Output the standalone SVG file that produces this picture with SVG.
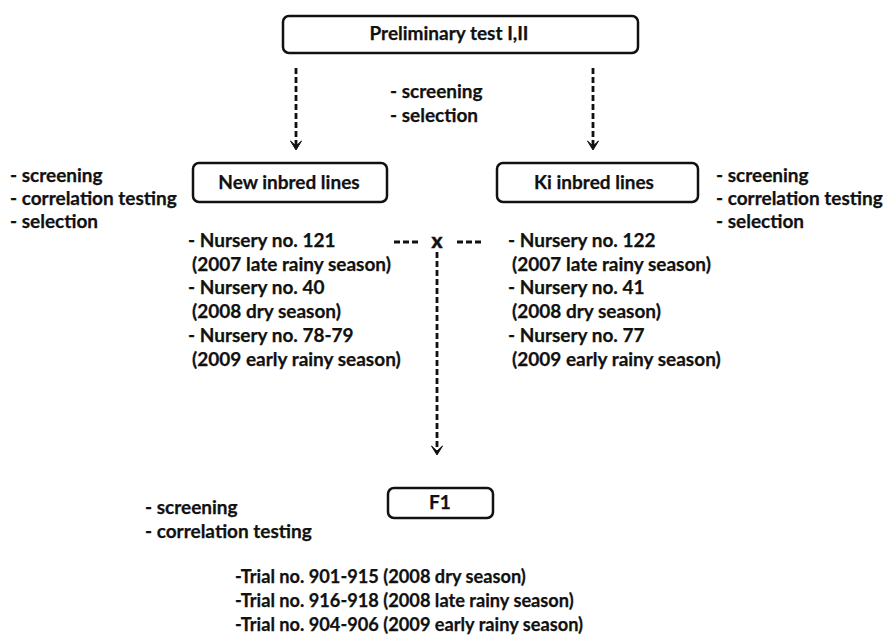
<svg xmlns="http://www.w3.org/2000/svg" width="889" height="643" viewBox="0 0 889 643">
<style>
text{font-family:Lato,"Liberation Sans",sans-serif;font-weight:700;font-size:19px;fill:#111;stroke:#111;stroke-width:0.25}
.box{fill:#fff;stroke:#111;stroke-width:2.5}
.c{text-anchor:middle}
.t{font-size:18.2px}
.dash{fill:none;stroke:#111;stroke-width:2.8;stroke-dasharray:6 3}
.head{fill:#111;stroke:#111;stroke-width:1;stroke-linejoin:miter}
</style>
<defs>
<path id="ah" class="head" d="M-5.5,-9 L0,-4 L5.5,-9 L0,0 Z"/>
</defs>
<rect width="889" height="643" fill="#fff"/>
<g id="connectors">
<line class="dash" x1="296" y1="68" x2="296" y2="145"/>
<use href="#ah" x="296" y="150"/>
<line class="dash" x1="593" y1="68" x2="593" y2="145"/>
<use href="#ah" x="593" y="150"/>
<line class="dash" x1="437" y1="252" x2="437" y2="450"/>
<use href="#ah" x="437" y="455"/>
<line class="dash" x1="394" y1="242" x2="421" y2="242"/>
<line class="dash" x1="457" y1="242" x2="483" y2="242"/>
</g>
<g id="node-preliminary">
<rect class="box" x="283" y="16" width="355" height="37" rx="6"/>
<text class="c" x="449" y="40">Preliminary test I,II</text>
</g>
<g id="note-top">
<text x="390" y="98">- screening</text>
<text x="390" y="122">- selection</text>
</g>
<g id="node-new">
<rect class="box" x="193" y="163" width="194" height="39" rx="6"/>
<text class="c" x="289" y="189">New inbred lines</text>
</g>
<g id="node-ki">
<rect class="box" x="497" y="163" width="201" height="39" rx="6"/>
<text class="c" x="594" y="189">Ki inbred lines</text>
</g>
<g id="note-left">
<text x="10" y="182">- screening</text>
<text x="10" y="205">- correlation testing</text>
<text x="10" y="228">- selection</text>
</g>
<g id="note-right">
<text x="716" y="182">- screening</text>
<text x="716" y="205">- correlation testing</text>
<text x="716" y="228">- selection</text>
</g>
<g id="cross">
<text class="c" x="437" y="248" style="font-size:21px;stroke-width:0.6">x</text>
</g>
<g id="nursery-left">
<text x="188" y="247">- Nursery no. 121</text>
<text x="192" y="271">(2007 late rainy season)</text>
<text x="188" y="294">- Nursery no. 40</text>
<text x="192" y="318">(2008 dry season)</text>
<text x="188" y="342">- Nursery no. 78-79</text>
<text x="192" y="366">(2009 early rainy season)</text>
</g>
<g id="nursery-right">
<text x="508" y="247">- Nursery no. 122</text>
<text x="512" y="271">(2007 late rainy season)</text>
<text x="508" y="294">- Nursery no. 41</text>
<text x="512" y="318">(2008 dry season)</text>
<text x="508" y="342">- Nursery no. 77</text>
<text x="512" y="366">(2009 early rainy season)</text>
</g>
<g id="node-f1">
<rect class="box" x="388" y="488" width="105" height="30" rx="6"/>
<text class="c" x="440" y="509">F1</text>
</g>
<g id="note-f1">
<text x="145" y="514">- screening</text>
<text x="145" y="538">- correlation testing</text>
</g>
<g id="trials">
<text class="t" x="235" y="583">-Trial no. 901-915 (2008 dry season)</text>
<text class="t" x="235" y="607">-Trial no. 916-918 (2008 late rainy season)</text>
<text class="t" x="235" y="631">-Trial no. 904-906 (2009 early rainy season)</text>
</g>
</svg>
